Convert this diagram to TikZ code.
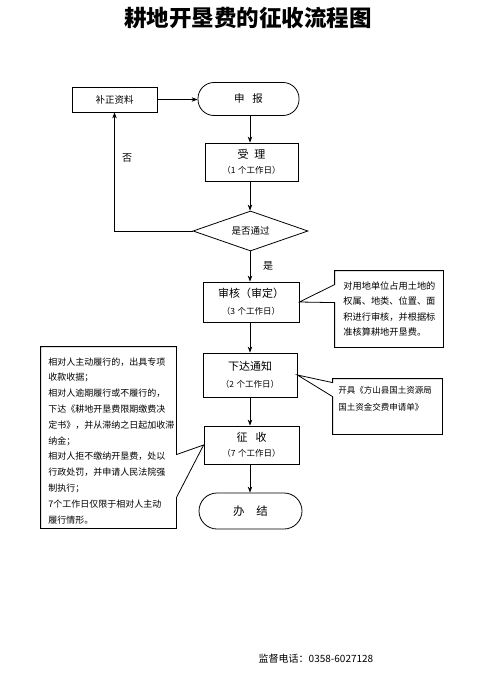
\documentclass[tikz,border=0pt]{standalone}
\usepackage{fontspec}
\setmainfont{Noto Sans CJK SC}
\usetikzlibrary{arrows.meta,shapes.geometric,calc}
\newcommand{\wdays}[1]{{\fontsize{8.5}{10}\selectfont（#1\hspace{2.5pt}个工作日）}}
\begin{document}
\begin{tikzpicture}[x=1pt,y=-1pt,
  line width=0.8pt,
  box/.style={draw,rectangle,inner sep=0pt,align=center,font=\fontsize{11}{15}\selectfont},
  term/.style={box,rounded corners=16pt},
  ctext/.style={inner sep=0pt,align=left,anchor=north west},
  cbox/.style={inner sep=0pt},
  arr/.style={-{Stealth[length=6pt,width=4.5pt]}},
  lbl/.style={inner sep=0pt,font=\fontsize{10}{12}\selectfont}]
\useasboundingbox (0,0) rectangle (495,698);
\coordinate (axis) at (250,0);

\node[inner sep=0pt,font=\fontsize{22.5}{26}\selectfont\bfseries] (title) at (248,18) {耕地开垦费的征收流程图};

\node[box,minimum width=85,minimum height=25,font=\fontsize{9.5}{11}\selectfont] (bz) at (114.5,99.5) {补正资料};
\node[term,minimum width=101,minimum height=33,font=\fontsize{10.5}{12}\selectfont] (sb) at (248.5,99) {申\hspace{8pt}报};
\node[box,minimum width=93,minimum height=38] (sl) at (251.5,162) {受\hspace{6pt}理\\\wdays{1}};
\node[draw,diamond,inner sep=0pt,aspect=2.9,minimum width=115,minimum height=40,font=\fontsize{9.5}{11}\selectfont] (dia) at (250.5,231) {是否通过};
\node[box,minimum width=96,minimum height=40] (sh) at (251,302) {审核（审定）\\[2pt]\wdays{3}};
\node[box,minimum width=94,minimum height=44] (xd) at (250,375) {下达通知\\[2pt]\wdays{2}};
\node[box,minimum width=95,minimum height=38] (zs) at (251.5,445) {征\hspace{8pt}收\\\wdays{7}};
\node[term,minimum width=103,minimum height=36,rounded corners=18pt,font=\fontsize{11.5}{13}\selectfont] (bj) at (250.5,511) {办\hspace{12pt}结};

\node[lbl] (no) at (127,158) {否};
\node[lbl] (yes) at (268,266) {是};

% connectors
\draw[arr] (bz.east) -- (bz.east -| sb.west);
\draw[arr] (sb.south -| axis) -- (sl.north -| axis);
\draw[arr] (sl.south -| axis) -- (dia.north -| axis);
\draw[arr] (dia.south -| axis) -- (sh.north -| axis);
\draw[arr] (sh.south -| axis) -- (xd.north -| axis);
\draw[arr] (xd.south -| axis) -- (zs.north -| axis);
\draw[arr] (zs.south -| axis) -- (bj.north -| axis);
\draw[arr] (dia.west) -| (bz.south);

% callout 1
\node[cbox,minimum width=108,minimum height=76] (c1) at (389,309) {};
\node[ctext,font=\fontsize{9.2}{15.6}\selectfont] (c1t) at (343,281) {对用地单位占用土地的\\权属、地类、位置、面\\积进行审核，并根据标\\准核算耕地开垦费。};
\draw (c1.north west) -- (c1.north east) -- (c1.south east) -- (c1.south west)
  -- ($(c1.north west)+(0,32)$) -- (sh.east) -- ($(c1.north west)+(0,14)$) -- cycle;

% callout 2
\node[cbox,minimum width=109,minimum height=55] (c2) at (387.5,406.5) {};
\node[ctext,font=\fontsize{8.5}{17}\selectfont] (c2t) at (338,386) {开具《方山县国土资源局\\国土资金交费申请单》};
\draw (c2.north west) -- (c2.north east) -- (c2.south east) -- (c2.south west)
  -- ($(c2.north west)+(0,18)$) -- (xd.east) -- ($(c2.north west)+(0,4)$) -- cycle;

% left callout
\node[cbox,minimum width=135,minimum height=181] (cl) at (108.5,437.5) {};
\node[ctext,font=\fontsize{9}{15.8}\selectfont] (clt) at (48,357) {相对人主动履行的，出具专项\\收款收据；\\相对人逾期履行或不履行的，\\下达《耕地开垦费限期缴费决\\定书》，并从滞纳之日起加收滞\\纳金；\\相对人拒不缴纳开垦费，处以\\行政处罚，并申请人民法院强\\制执行；\\7个工作日仅限于相对人主动\\履行情形。};
\draw (cl.north west) -- (cl.north east) -- ($(cl.north east)+(0,108)$) -- (zs.west)
  -- ($(cl.north east)+(0,151)$) -- (cl.south east) -- (cl.south west) -- cycle;

\node[inner sep=0pt,font=\fontsize{10}{12}\selectfont] (tel) at (316,659) {监督电话：0358-6027128};
\end{tikzpicture}
\end{document}
